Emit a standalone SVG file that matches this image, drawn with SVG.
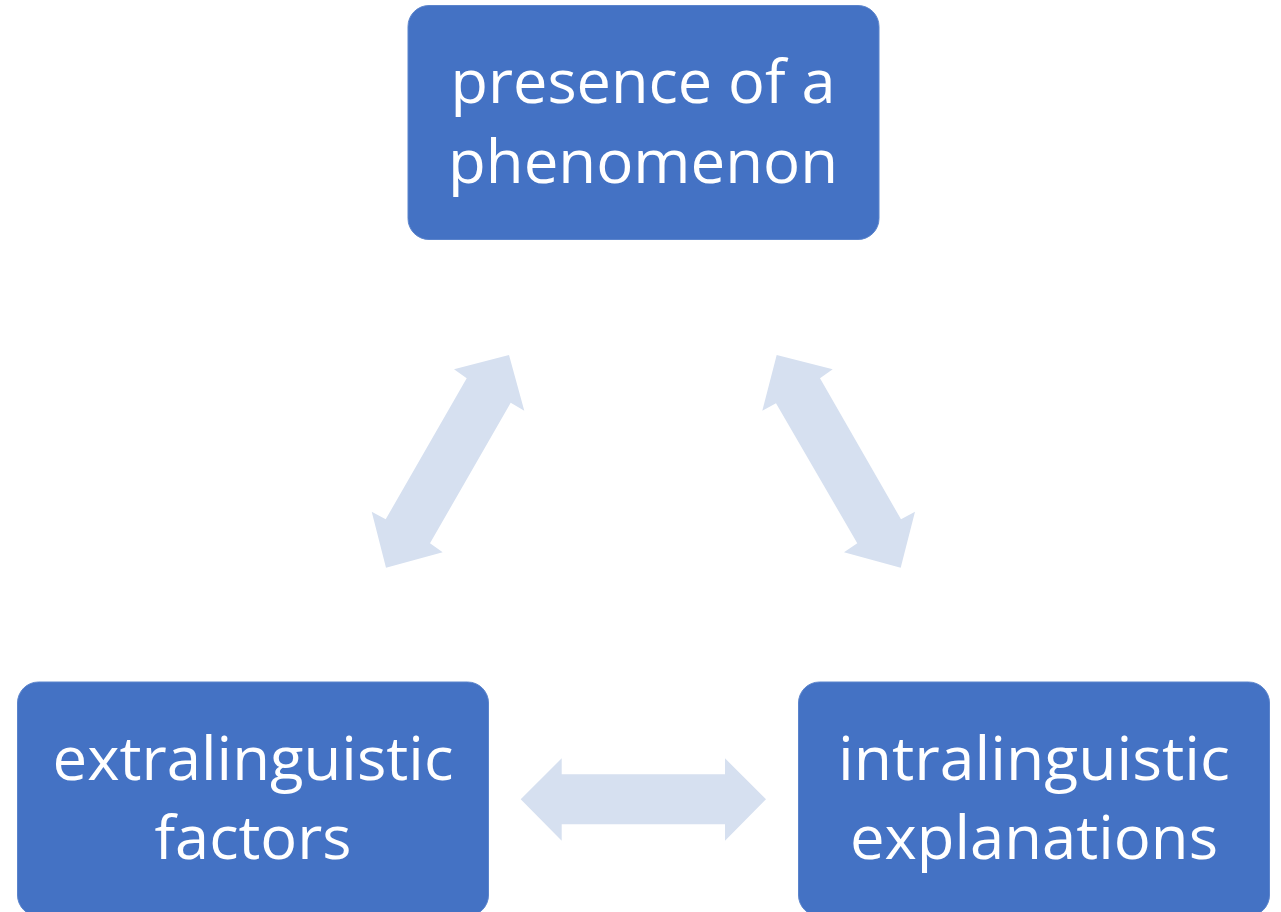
<svg xmlns="http://www.w3.org/2000/svg" width="1281" height="912" viewBox="0 0 1281 912">
<style>
.box{fill:#4472C4;stroke:#5B84CC;stroke-width:1}
.lbl{fill:#FFFFFF;font-family:"Open Sans","Liberation Sans",sans-serif;font-size:60px;text-anchor:middle}
.arr{fill:#D6E0F0}
</style>
<rect width="1281" height="912" fill="#FFFFFF"/>
<g id="connectors">
<polygon class="arr" points="509,355 524.3,410.7 510.7,402.7 430,543.3 442.7,552.3 386,567.7 371.7,511.7 385.7,519.3 466.7,378.3 454,369.3"/>
<polygon class="arr" points="776.7,355 832.7,369.3 820,378.3 901,519.3 915,511.7 900.7,567.7 844,552.3 857.3,543.3 776,403.3 762.3,410.7"/>
<polygon class="arr" points="520.7,799.3 561.7,758.3 561.7,774.3 725,774.3 725,758.3 766,799.3 725,840.7 725,824.3 561.7,824.3 561.7,840.7"/>
</g>
<g id="node-top">
<rect class="box" x="408" y="5.5" width="471" height="234" rx="21"/>
<text class="lbl" x="643" y="103" textLength="385" lengthAdjust="spacingAndGlyphs">presence of a</text>
<text class="lbl" x="643" y="183" textLength="390" lengthAdjust="spacingAndGlyphs">phenomenon</text>
</g>
<g id="node-left">
<rect class="box" x="17.5" y="682" width="471" height="234" rx="21"/>
<text class="lbl" x="253" y="780" textLength="401" lengthAdjust="spacingAndGlyphs">extralinguistic</text>
<text class="lbl" x="253" y="859" textLength="197" lengthAdjust="spacingAndGlyphs">factors</text>
</g>
<g id="node-right">
<rect class="box" x="798.5" y="682" width="471" height="234" rx="21"/>
<text class="lbl" x="1034" y="780" textLength="392" lengthAdjust="spacingAndGlyphs">intralinguistic</text>
<text class="lbl" x="1034" y="859" textLength="368" lengthAdjust="spacingAndGlyphs">explanations</text>
</g>
</svg>
